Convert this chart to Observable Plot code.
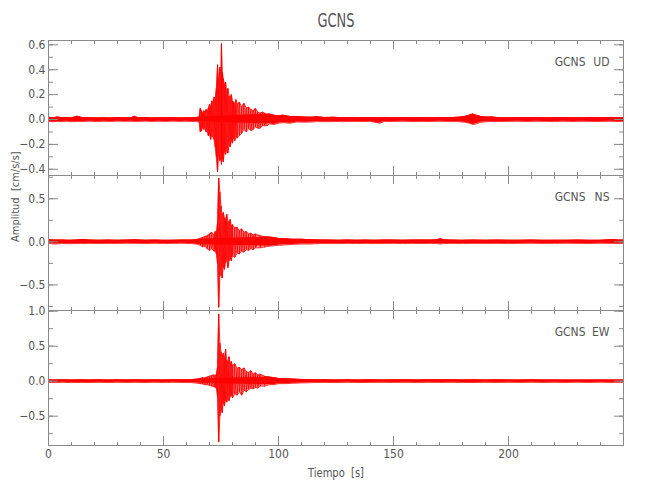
<!DOCTYPE html>
<html>
<head>
<meta charset="utf-8">
<script src="https://cdn.jsdelivr.net/npm/d3@7"></script>
<script src="https://cdn.jsdelivr.net/npm/@observablehq/plot@0.6"></script>
<style>
  body { margin: 0; background: white; }
  #chart { position: relative; width: 650px; height: 500px; background: white;
           font-family: 'DejaVu Sans Condensed', 'Liberation Sans Narrow', 'DejaVu Sans', sans-serif; color: #555; }
  #chart svg { position: absolute; left: 0; top: 0; }
  .lbl { position: absolute; white-space: pre; color: #555; line-height: 1; }
</style>
</head>
<body>
<div id="chart"></div>
<script>
// ---- text ----
const title = "GCNS";
const xLabel = "Tiempo  [s]";
const yLabel = "Amplitud  [cm/s/s]";
const station = "GCNS";
const components = ["UD", "NS", "EW"];

// ---- axes ----
const xDomain = [0, 250];
const xMajor = [0, 50, 100, 150, 200, 250];
const xMinor = [0, 10, 20, 30, 40, 50, 60, 70, 80, 90, 100, 110, 120, 130, 140, 150, 160, 170, 180, 190, 200, 210, 220, 230, 240, 250];
const xLabels = [0, 50, 100, 150, 200];

const udDomain = [-0.45, 0.635];
const udMajor = [-0.4, -0.2, 0.0, 0.2, 0.4, 0.6];
const udMinor = [-0.4, -0.3, -0.2, -0.1, 0.0, 0.1, 0.2, 0.3, 0.4, 0.5, 0.6];

const nsDomain = [-0.797, 0.77];
const nsMajor = [-0.5, 0.0, 0.5];
const nsMinor = [-0.75, -0.5, -0.25, 0.0, 0.25, 0.5, 0.75];

const ewDomain = [-0.919, 1.01];
const ewMajor = [-0.5, 0.0, 0.5, 1.0];
const ewMinor = [-0.75, -0.5, -0.25, 0.0, 0.25, 0.5, 0.75, 1.0];

// strong-motion window (s) where individual oscillations are resolved
const burstWindow = [65, 96];

// ---- waveform envelopes: [time s, max, min] ----
const udEnvelope = [
  [0,0.018,-0.016],[2,0.014,-0.018],[4,0.02,-0.015],[6,0.015,-0.017],[8,0.017,-0.014],[10,0.013,-0.018],
  [12.5,0.026,-0.015],[15,0.014,-0.016],[18,0.016,-0.013],[21,0.013,-0.017],[24,0.015,-0.014],[27,0.012,-0.016],
  [30,0.016,-0.013],[33,0.014,-0.015],[36,0.015,-0.014],[37.5,0.026,-0.016],[39,0.014,-0.015],[42,0.016,-0.013],
  [45,0.013,-0.016],[48,0.015,-0.014],[51,0.014,-0.016],[54,0.017,-0.013],[57,0.013,-0.015],[60,0.015,-0.014],
  [62,0.014,-0.016],[64,0.016,-0.015],[65.5,0.02,-0.02],[66,0.09,-0.10],[66.5,0.07,-0.09],[67,0.05,-0.06],
  [67.5,0.07,-0.08],[68,0.06,-0.07],[68.5,0.08,-0.10],[69,0.06,-0.09],[69.5,0.09,-0.13],[70,0.12,-0.11],
  [70.5,0.10,-0.16],[71,0.15,-0.12],[71.5,0.13,-0.14],[72,0.18,-0.16],[72.5,0.16,-0.22],[73,0.25,-0.30],
  [73.5,0.44,-0.42],[74,0.30,-0.26],[74.5,0.42,-0.33],[75,0.35,-0.30],[75.2,0.61,-0.36],[75.6,0.38,-0.30],
  [76,0.33,-0.34],[76.5,0.28,-0.25],[77,0.30,-0.28],[77.5,0.22,-0.24],[78,0.25,-0.27],[78.5,0.19,-0.20],
  [79,0.17,-0.22],[79.5,0.20,-0.17],[80,0.15,-0.19],[80.5,0.14,-0.14],[81,0.12,-0.17],[81.5,0.16,-0.12],
  [82,0.12,-0.15],[83,0.14,-0.13],[84,0.10,-0.11],[85,0.13,-0.08],[86,0.09,-0.10],[87,0.10,-0.07],
  [88,0.08,-0.09],[89,0.07,-0.08],[90,0.09,-0.06],[91,0.06,-0.07],[92,0.05,-0.07],[93,0.06,-0.05],
  [94,0.05,-0.05],[95,0.04,-0.05],[96,0.045,-0.035],[98,0.035,-0.04],[100,0.03,-0.03],[102,0.035,-0.025],
  [105,0.025,-0.03],[108,0.025,-0.02],[111,0.02,-0.022],[114,0.018,-0.02],[117,0.022,-0.017],[120,0.016,-0.018],
  [124,0.018,-0.016],[128,0.015,-0.017],[132,0.017,-0.015],[136,0.015,-0.016],[140,0.016,-0.015],[144,0.015,-0.03],
  [146,0.017,-0.015],[150,0.014,-0.016],[154,0.016,-0.014],[158,0.015,-0.016],[162,0.016,-0.015],[166,0.014,-0.016],
  [170,0.017,-0.014],[174,0.015,-0.016],[178,0.018,-0.017],[181,0.025,-0.022],[183,0.035,-0.03],[184.5,0.045,-0.04],
  [186,0.035,-0.035],[188,0.025,-0.022],[190,0.02,-0.018],[193,0.02,-0.016],[196,0.015,-0.016],[200,0.014,-0.015],
  [204,0.016,-0.014],[208,0.015,-0.016],[212,0.017,-0.014],[216,0.014,-0.015],[220,0.015,-0.017],[224,0.016,-0.014],
  [228,0.014,-0.016],[232,0.015,-0.014],[236,0.017,-0.015],[240,0.014,-0.016],[244,0.016,-0.014],[248,0.015,-0.016],
  [250,0.016,-0.015]
];

const nsEnvelope = [
  [0,0.025,-0.02],[3,0.02,-0.025],[6,0.022,-0.02],[9,0.018,-0.022],[12,0.02,-0.02],[15,0.028,-0.02],
  [18,0.02,-0.018],[22,0.018,-0.02],[26,0.02,-0.018],[30,0.017,-0.019],[34,0.02,-0.017],[38,0.024,-0.018],
  [42,0.018,-0.02],[46,0.02,-0.017],[50,0.017,-0.02],[54,0.019,-0.018],[58,0.02,-0.017],[62,0.02,-0.02],
  [64,0.025,-0.025],[65,0.03,-0.03],[66,0.04,-0.04],[67,0.05,-0.06],[68,0.06,-0.05],[69,0.07,-0.08],
  [70,0.09,-0.10],[71,0.11,-0.08],[72,0.08,-0.11],[72.5,0.12,-0.10],[73,0.10,-0.14],[73.5,0.22,-0.25],
  [74,0.74,-0.76],[74.5,0.58,-0.40],[75,0.42,-0.34],[75.5,0.30,-0.42],[76,0.34,-0.28],[76.5,0.28,-0.32],
  [77,0.25,-0.24],[77.5,0.32,-0.20],[78,0.24,-0.30],[78.5,0.22,-0.22],[79,0.26,-0.18],[79.5,0.18,-0.22],
  [80,0.20,-0.16],[81,0.16,-0.18],[82,0.17,-0.13],[83,0.13,-0.14],[84,0.15,-0.11],[85,0.11,-0.12],
  [86,0.12,-0.09],[87,0.09,-0.10],[88,0.10,-0.08],[89,0.08,-0.09],[90,0.09,-0.07],[92,0.07,-0.07],
  [94,0.06,-0.06],[96,0.055,-0.05],[98,0.05,-0.045],[100,0.04,-0.04],[103,0.035,-0.035],[106,0.03,-0.03],
  [110,0.03,-0.025],[114,0.025,-0.025],[118,0.022,-0.02],[122,0.02,-0.02],[126,0.018,-0.02],[130,0.022,-0.018],
  [134,0.019,-0.02],[138,0.02,-0.018],[142,0.018,-0.02],[146,0.022,-0.019],[150,0.02,-0.018],[154,0.019,-0.02],
  [158,0.02,-0.018],[162,0.022,-0.02],[166,0.02,-0.018],[169,0.024,-0.02],[170.5,0.035,-0.025],[172,0.024,-0.02],
  [175,0.02,-0.018],[180,0.018,-0.02],[185,0.02,-0.018],[190,0.018,-0.019],[195,0.02,-0.018],[200,0.019,-0.02],
  [205,0.018,-0.018],[210,0.02,-0.017],[215,0.017,-0.019],[220,0.019,-0.018],[225,0.018,-0.017],[230,0.02,-0.018],
  [235,0.017,-0.019],[240,0.018,-0.017],[245,0.026,-0.018],[248,0.02,-0.02],[250,0.02,-0.018]
];

const ewEnvelope = [
  [0,0.02,-0.018],[3,0.018,-0.02],[6,0.02,-0.017],[10,0.017,-0.02],[14,0.019,-0.018],[18,0.018,-0.019],
  [22,0.02,-0.017],[26,0.017,-0.019],[30,0.019,-0.017],[34,0.018,-0.018],[38,0.022,-0.017],[42,0.017,-0.019],
  [46,0.019,-0.017],[50,0.018,-0.018],[54,0.02,-0.017],[58,0.022,-0.018],[62,0.02,-0.02],[65,0.03,-0.03],
  [66,0.04,-0.035],[67,0.05,-0.04],[68,0.045,-0.05],[69,0.06,-0.05],[70,0.07,-0.06],[71,0.08,-0.07],
  [72,0.09,-0.08],[72.5,0.07,-0.09],[73,0.10,-0.10],[73.5,0.20,-0.22],[74,0.96,-0.87],[74.5,0.55,-0.50],
  [75,0.42,-0.38],[75.5,0.35,-0.45],[76,0.40,-0.30],[76.5,0.30,-0.35],[77,0.46,-0.26],[77.5,0.30,-0.30],
  [78,0.28,-0.23],[78.5,0.35,-0.28],[79,0.25,-0.22],[79.5,0.28,-0.20],[80,0.22,-0.24],[81,0.25,-0.18],
  [82,0.18,-0.20],[83,0.20,-0.15],[84,0.16,-0.20],[85,0.19,-0.13],[86,0.14,-0.15],[87,0.12,-0.12],
  [88,0.15,-0.10],[89,0.10,-0.11],[90,0.12,-0.09],[91,0.09,-0.10],[92,0.10,-0.07],[94,0.07,-0.07],
  [96,0.06,-0.05],[98,0.05,-0.05],[100,0.04,-0.035],[103,0.035,-0.035],[106,0.03,-0.03],[110,0.025,-0.025],
  [115,0.022,-0.02],[120,0.02,-0.018],[125,0.018,-0.02],[130,0.02,-0.017],[135,0.017,-0.019],[140,0.02,-0.018],
  [145,0.018,-0.017],[150,0.019,-0.018],[155,0.02,-0.017],[160,0.018,-0.019],[165,0.02,-0.017],[170,0.019,-0.018],
  [175,0.022,-0.017],[180,0.018,-0.018],[185,0.02,-0.019],[190,0.017,-0.017],[195,0.019,-0.018],[200,0.018,-0.017],
  [205,0.017,-0.018],[210,0.019,-0.016],[215,0.017,-0.018],[220,0.018,-0.017],[225,0.016,-0.018],[230,0.018,-0.016],
  [235,0.017,-0.018],[240,0.018,-0.016],[245,0.017,-0.018],[250,0.018,-0.017]
];

// ---- drawing ----
const W = 650, H = 500;
const frameColor = "#8a8a8a";
const textColor = "#555";
const red = "#ff0000";
const fmt = d => (d < 0 ? "\u2212" : "") + Math.abs(d).toFixed(1);
const zigzag = env => env.flatMap(([t, hi, lo]) => [[t, hi], [t, lo]]);
const inBurst = d => d[0] > burstWindow[0] && d[0] < burstWindow[1];
const outBurst = d => !inBurst(d);

const panels = [
  {comp: components[0], env: udEnvelope, domain: udDomain, major: udMajor, minor: udMinor, top: 40, bottom: 175},
  {comp: components[1], env: nsEnvelope, domain: nsDomain, major: nsMajor, minor: nsMinor, top: 175, bottom: 310},
  {comp: components[2], env: ewEnvelope, domain: ewDomain, major: ewMajor, minor: ewMinor, top: 310, bottom: 445}
];

const chart = document.getElementById("chart");
const svgFont = "'DejaVu Sans Condensed', 'Liberation Sans Narrow', 'DejaVu Sans', sans-serif";

panels.forEach((p, i) => {
  const last = i === panels.length - 1;
  const X = d => d[0], HI = d => d[1], LO = d => d[2];
  const marks = [
    // strong-motion envelope (lighter interior)
    Plot.areaY(p.env, {x: X, y1: LO, y2: HI, fill: red, fillOpacity: 0.5}),
    // background noise band (solid)
    Plot.areaY(p.env, {filter: outBurst, x: X, y1: LO, y2: HI, fill: red}),
    // envelope edges and oscillations
    Plot.line(p.env, {x: X, y: HI, stroke: red, strokeWidth: 0.8}),
    Plot.line(p.env, {x: X, y: LO, stroke: red, strokeWidth: 0.8}),
    Plot.line(zigzag(p.env), {filter: inBurst, x: d => d[0], y: d => d[1], stroke: red, strokeWidth: 0.8}),
    Plot.frame({stroke: frameColor}),
    // inward ticks: left edge
    Plot.axisY({anchor: "right", frameAnchor: "left", ticks: p.major, tickSize: 9, fill: "none", stroke: frameColor, label: null}),
    Plot.axisY({anchor: "right", frameAnchor: "left", ticks: p.minor, tickSize: 4, fill: "none", stroke: frameColor, label: null}),
    // inward ticks: right edge
    Plot.axisY({anchor: "left", frameAnchor: "right", ticks: p.major, tickSize: 9, fill: "none", stroke: frameColor, label: null}),
    Plot.axisY({anchor: "left", frameAnchor: "right", ticks: p.minor, tickSize: 4, fill: "none", stroke: frameColor, label: null}),
    // inward ticks: bottom edge
    Plot.axisX({anchor: "top", frameAnchor: "bottom", ticks: xMajor, tickSize: 10, fill: "none", stroke: frameColor, label: null}),
    Plot.axisX({anchor: "top", frameAnchor: "bottom", ticks: xMinor, tickSize: 4, fill: "none", stroke: frameColor, label: null}),
    // inward ticks: top edge
    Plot.axisX({anchor: "bottom", frameAnchor: "top", ticks: xMajor, tickSize: 9, fill: "none", stroke: frameColor, label: null}),
    Plot.axisX({anchor: "bottom", frameAnchor: "top", ticks: xMinor, tickSize: 4, fill: "none", stroke: frameColor, label: null}),
    // y tick labels
    Plot.axisY({anchor: "left", ticks: p.major, tickSize: 0, tickPadding: 3, tickFormat: fmt, fill: textColor, fontSize: 12, label: null}),
    // component label
    Plot.text([station], {frameAnchor: "top-right", dx: -38, dy: 22, text: d => d, textAnchor: "end", lineAnchor: "middle", fill: textColor, fontSize: 12}),
    Plot.text([p.comp], {frameAnchor: "top-right", dx: -14, dy: 22, text: d => d, textAnchor: "end", lineAnchor: "middle", fill: textColor, fontSize: 12})
  ];
  if (i === 1) {
    // shared y-axis title, centred on the middle panel (= centre of the stack)
    marks.push(Plot.text([yLabel], {frameAnchor: "left", dx: -33, dy: -1, rotate: -90, text: d => d, fill: textColor, fontSize: 11}));
  }
  if (last) {
    marks.push(Plot.axisX({anchor: "bottom", ticks: xLabels, tickSize: 0, tickPadding: 4, fill: textColor, fontSize: 12, label: null}));
  }
  const svg = Plot.plot({
    width: W,
    height: H,
    marginLeft: 48,
    marginRight: 27,
    marginTop: p.top,
    marginBottom: H - p.bottom,
    x: {domain: xDomain, axis: null},
    y: {domain: p.domain, axis: null},
    style: {background: "transparent", overflow: "visible", fontFamily: svgFont},
    marks
  });
  chart.appendChild(svg);
});

function addLabel(text, css) {
  const d = document.createElement("div");
  d.className = "lbl";
  d.textContent = text;
  Object.assign(d.style, css);
  chart.appendChild(d);
}
addLabel(title, {left: "335.5px", top: "19.5px", fontSize: "20px", transform: "translate(-50%, -50%) scaleX(0.72)"});
addLabel(xLabel, {left: "336px", top: "472px", fontSize: "13px", transform: "translate(-50%, -50%) scaleX(0.85)"});
</script>
</body>
</html>
